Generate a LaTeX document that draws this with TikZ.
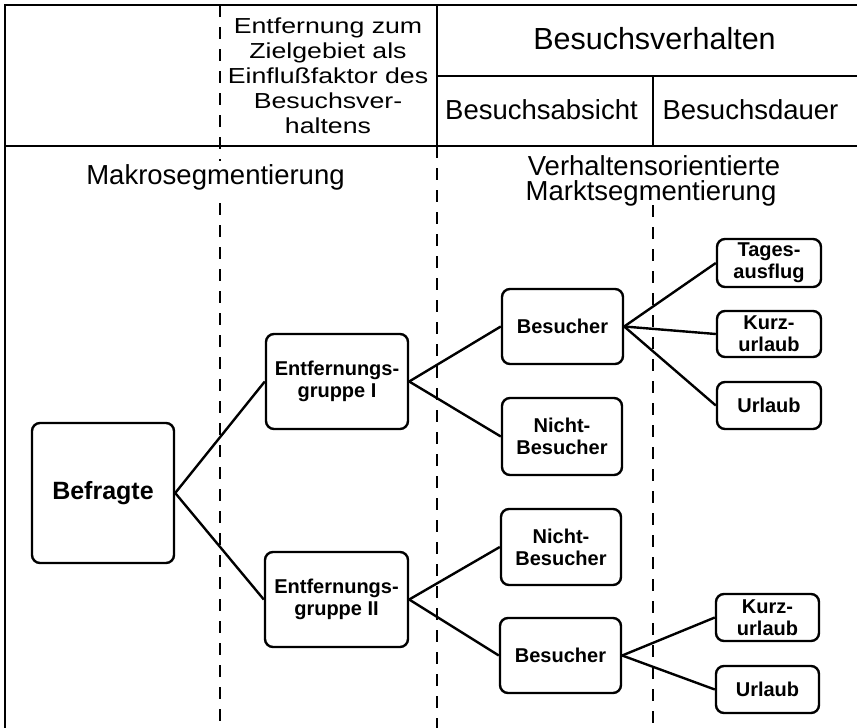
\documentclass[tikz,border=0pt]{standalone}
\usepackage{fontspec}
\usepackage{graphicx}
\setmainfont{Liberation Sans}
% horizontally widened lettering for the distance column heading
\newcommand{\stretchx}[1]{\scalebox{1.23}[1]{#1}}
\begin{document}
\begin{tikzpicture}[x=1pt,y=-1pt,
  frame/.style={line width=1.6pt},
  divider/.style={line width=1.5pt, dash pattern=on 12pt off 10pt},
  box/.style={draw, line width=2.4pt, rounded corners=8pt, align=center,
    font=\bfseries\fontsize{20}{22}\selectfont, inner sep=0pt},
  link/.style={line width=2.4pt},
  head/.style={font=\fontsize{27.5}{30}\selectfont, anchor=base, align=center}
]
\useasboundingbox (0,0) rectangle (857,728);

% table frame and header rules
\draw[frame] (5,728) -- (5,5) -- (857,5);
\draw[frame] (5,146) -- (857,146);
\draw[frame] (437,76) -- (857,76);
\draw[frame] (437,5) -- (437,146);
\draw[frame] (653,76) -- (653,146);

% dashed column dividers
\draw[divider] (220,5) -- (220,728);
\draw[divider] (437,146) -- (437,728);
\draw[divider] (653,205) -- (653,728);

% header texts
\node[font=\fontsize{21.7}{25}\selectfont, align=center] (hdist) at (328,76)
  {\stretchx{Entfernung zum}\\\stretchx{Zielgebiet als}\\\stretchx{Einflußfaktor des}\\
   \stretchx{Besuchsver-}\\\stretchx{haltens}};
\node[head, font=\fontsize{30.5}{33}\selectfont] (hbeh) at (654.5,49) {Besuchsverhalten};
\node[head] (habs) at (541.5,119) {Besuchsabsicht};
\node[head] (hdau) at (750.5,119) {Besuchsdauer};
\node[head, fill=white, inner sep=3pt] (hmakro) at (215.5,184) {Makrosegmentierung};
\node[head] (hverh) at (654,175) {Verhaltensorientierte};
\node[head] (hmarkt) at (651,200) {Marktsegmentierung};

% segmentation tree
\node[box, minimum width=142pt, minimum height=140pt, font=\bfseries\fontsize{25}{28}\selectfont]
  (befragte) at (103,493) {Befragte};
\node[box, minimum width=142pt, minimum height=95pt] (eg1) at (337,381.5) {Entfernungs-\\gruppe I};
\node[box, minimum width=143pt, minimum height=95pt] (eg2) at (336.5,599.5) {Entfernungs-\\gruppe II};
\node[box, minimum width=121pt, minimum height=75pt] (bes1) at (562.5,326.5) {Besucher};
\node[box, minimum width=120pt, minimum height=77pt] (nb1) at (562,436.5) {Nicht-\\Besucher};
\node[box, minimum width=120pt, minimum height=76pt] (nb2) at (561,547) {Nicht-\\Besucher};
\node[box, minimum width=121pt, minimum height=75pt] (bes2) at (560.5,655.5) {Besucher};
\node[box, minimum width=104pt, minimum height=48pt] (tag) at (769,263) {Tages-\\ausflug};
\node[box, minimum width=104pt, minimum height=46pt] (kurz1) at (769,334) {Kurz-\\urlaub};
\node[box, minimum width=104pt, minimum height=47pt] (url1) at (769,405.5) {Urlaub};
\node[box, minimum width=103pt, minimum height=47pt] (kurz2) at (767.5,617.5) {Kurz-\\urlaub};
\node[box, minimum width=103pt, minimum height=47pt] (url2) at (767.5,689.5) {Urlaub};

\draw[link] (befragte.east) -- (eg1.west);
\draw[link] (befragte.east) -- (eg2.west);
\draw[link] (eg1.east) -- (bes1.west);
\draw[link] (eg1.east) -- (nb1.west);
\draw[link] (eg2.east) -- (nb2.west);
\draw[link] (eg2.east) -- (bes2.west);
\draw[link] (bes1.east) -- (tag.west);
\draw[link] (bes1.east) -- (kurz1.west);
\draw[link] (bes1.east) -- (url1.west);
\draw[link] (bes2.east) -- (kurz2.west);
\draw[link] (bes2.east) -- (url2.west);
\end{tikzpicture}
\end{document}
